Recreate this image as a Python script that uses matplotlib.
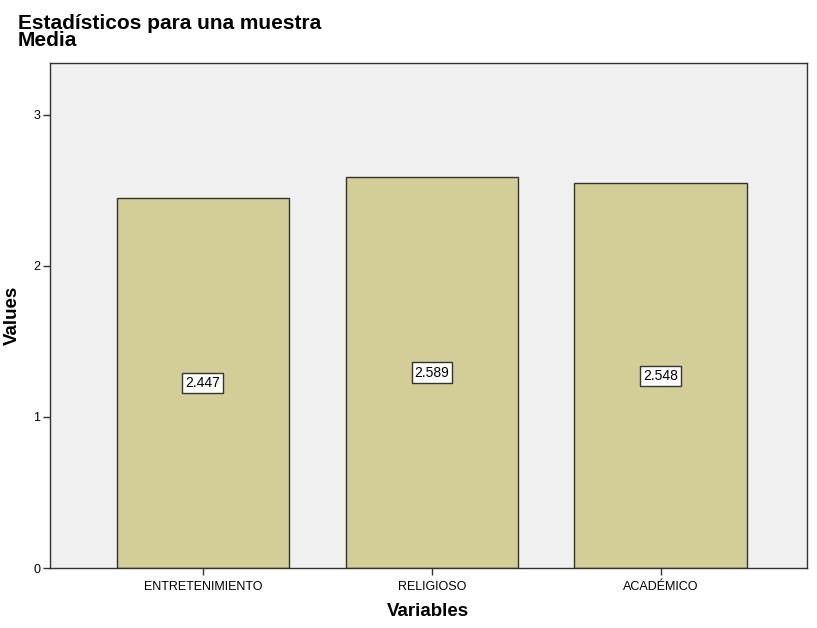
import matplotlib
matplotlib.use("Agg")
import matplotlib.pyplot as plt
import numpy as np

plt.rcParams['font.family'] = ['Liberation Sans', 'DejaVu Sans']

# data
categories = ['ENTRETENIMIENTO', 'RELIGIOSO', 'ACADÉMICO']
means = [2.447, 2.589, 2.548]

fig = plt.figure(figsize=(8.17, 6.28), dpi=100)
ax = fig.add_axes([0.0612, 0.0955, 0.9266, 0.8042])
ax.set_facecolor('#f0f0f0')

x = np.arange(len(categories))
ax.bar(x, means, width=0.755, color='#d3ce97', edgecolor='#333333', linewidth=1.0, zorder=2)

for xi, v in zip(x, means):
    ax.text(xi, v / 2, '%.3f' % v, ha='center', va='center', fontsize=10,
            bbox=dict(boxstyle='square,pad=0.22', facecolor='white', edgecolor='#333333', linewidth=1.0),
            zorder=3)

ax.set_xlim(-0.668, 2.638)
ax.set_ylim(0, 3.344)
ax.set_yticks([0, 1, 2, 3])
ax.set_xticks(x)
ax.set_xticklabels(categories)
ax.tick_params(axis='both', labelsize=9, length=5, width=1, color='#333333', pad=2)
ax.tick_params(axis='x', pad=4)

for s in ax.spines.values():
    s.set_color('#333333')
    s.set_linewidth(1.0)

fig.text(12 / 817, 1 - 315 / 628, 'Values', fontsize=13.5, fontweight='bold',
         rotation=90, ha='center', va='center')
fig.text(428 / 817, 1 - 612 / 628, 'Variables', fontsize=13.5, fontweight='bold',
         ha='center', va='center')

fig.text(0.022, 0.978, 'Estadísticos para una muestra\nMedia', fontsize=15, fontweight='bold',
         ha='left', va='top', linespacing=0.9)

fig.savefig('out.png', dpi=100)
